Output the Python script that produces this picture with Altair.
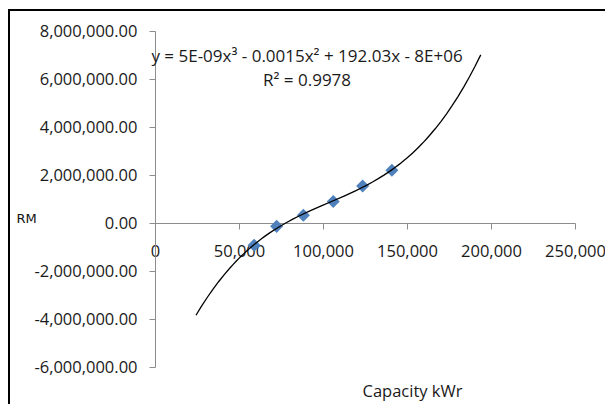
import altair as alt
import pandas as pd

# ---- data ----
capacity_kwr = [59000, 72400, 88300, 106100, 123600, 141000]
rm_values = [-930000, -140000, 320000, 900000, 1540000, 2200000]
trend_extent = [24400, 193900]
x_ticks = [0, 50000, 100000, 150000, 200000, 250000]
y_ticks = [-6000000, -4000000, -2000000, 0, 2000000, 4000000, 6000000, 8000000]
label_text = ["y = 5E-09x³ - 0.0015x² + 192.03x - 8E+06", "R² = 0.9978"]
label_x = [90500, 90500]
label_y = [6900000, 5900000]

points = pd.DataFrame({"Capacity": capacity_kwr, "RM": rm_values})
labels = pd.DataFrame({"Capacity": label_x, "RM": label_y, "txt": label_text})
one = pd.DataFrame({"a": [0]})

W, H = 420, 336
FONT = "Open Sans"
AXIS_GRAY = "#8c8c8c"
TXT = "#1a1a1a"

xscale = alt.Scale(domain=[0, 250000], nice=False, zero=False)
yscale = alt.Scale(domain=[-6000000, 8000000], nice=False)

zero_px = H * 8 / 14

xaxis = alt.Axis(
    values=x_ticks,
    labelExpr="replace(format(datum.value, ',d'), '−', '-')",
    offset=zero_px - H,
    grid=False,
    tickSize=6,
    labelPadding=14,
    labelFlush=False,
    labelOverlap=False,
    labelFont=FONT,
    labelFontSize=16.5,
    labelColor=TXT,
    domainColor=AXIS_GRAY,
    tickColor=AXIS_GRAY,
    title="Capacity kWr",
    titleFont=FONT,
    titleFontSize=16.5,
    titleFontWeight="normal",
    titleColor=TXT,
    titleX=257,
    titleY=168,
    titleAlign="center",
    titleBaseline="middle",
)

yaxis = alt.Axis(
    values=y_ticks,
    labelExpr="replace(format(datum.value, ',.2f'), '−', '-')",
    grid=False,
    tickSize=6,
    labelPadding=12,
    labelOverlap=False,
    labelFont=FONT,
    labelFontSize=16.5,
    labelColor=TXT,
    domainColor=AXIS_GRAY,
    tickColor=AXIS_GRAY,
    title="RM",
    titleFont="DejaVu Sans",
    titleFontSize=13,
    titleFontWeight="normal",
    titleColor="#111111",
    titleAngle=0,
    titleX=-129,
    titleY=187,
    titleAlign="center",
    titleBaseline="middle",
)

# decorative outer frame: an unfilled box whose top and left edges show
frame_box = alt.Chart(one).mark_rect(
    fill=None, fillOpacity=0, stroke="#000000", strokeWidth=2
).encode(
    x=alt.value(-146), x2=alt.value(520), y=alt.value(-21), y2=alt.value(520)
)
frame_top = alt.Chart(one).mark_rule(color="#000000", strokeWidth=2).encode(
    y=alt.value(-21)
)

pts = alt.Chart(points).mark_point(
    shape="diamond", filled=True, size=170, color="#4F81BD", opacity=1
).encode(
    x=alt.X("Capacity:Q", scale=xscale, axis=xaxis),
    y=alt.Y("RM:Q", scale=yscale, axis=yaxis),
)

trend = alt.Chart(points).transform_regression(
    "Capacity", "RM", method="poly", order=3, extent=trend_extent
).mark_line(color="#000000", strokeWidth=1.3).encode(
    x=alt.X("Capacity:Q", scale=xscale),
    y=alt.Y("RM:Q", scale=yscale),
)

txt = alt.Chart(labels).mark_text(
    font=FONT, fontSize=17, color=TXT, align="center", baseline="middle"
).encode(
    x=alt.X("Capacity:Q", scale=xscale),
    y=alt.Y("RM:Q", scale=yscale),
    text="txt:N",
)

chart = alt.layer(pts, frame_box, frame_top, trend, txt).properties(
    width=W,
    height=H,
    autosize=alt.AutoSizeParams(type="none"),
    padding={"left": 147, "top": 23, "right": 30, "bottom": 37},
    background="white",
).configure_view(stroke=None)

chart.save("out.html", embed_options={"renderer": "svg", "actions": False})
